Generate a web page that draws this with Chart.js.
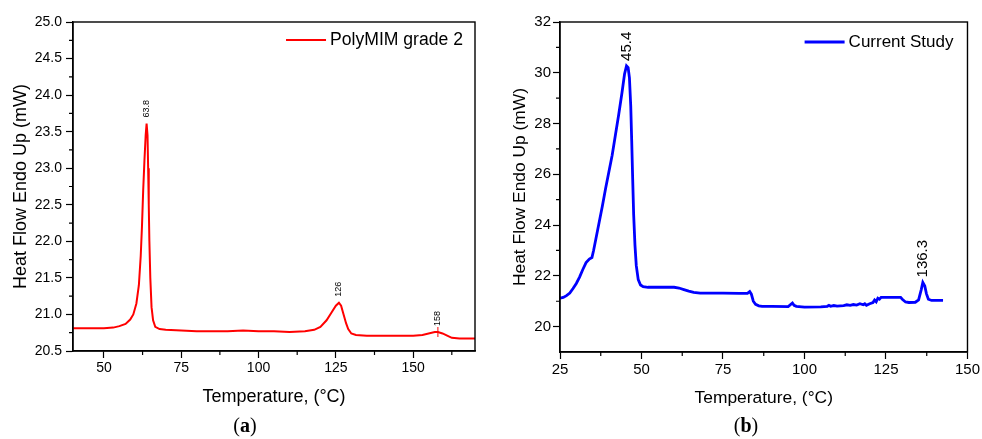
<!DOCTYPE html>
<html><head><meta charset="utf-8">
<script src="https://cdn.jsdelivr.net/npm/chart.js@4.4.1/dist/chart.umd.min.js"></script>
<style>
html,body{margin:0;padding:0;background:#fff;width:982px;height:439px;overflow:hidden;}
.panel{position:absolute;top:0;height:439px;}
#pa{left:0;width:490px;}
#pb{left:490px;width:492px;}
.cap{position:absolute;top:413px;width:80px;text-align:center;font-family:"Liberation Serif","Times New Roman",serif;font-size:20px;line-height:24px;color:#000;}
</style></head>
<body>
<div class="panel" id="pa"><canvas id="ca" width="490" height="439" style="width:490px;height:439px"></canvas></div>
<div class="panel" id="pb"><canvas id="cb" width="492" height="439" style="width:492px;height:439px"></canvas></div>
<div class="cap" style="left:205px">(<b>a</b>)</div>
<div class="cap" style="left:706px">(<b>b</b>)</div>
<script>
// ---------- data: panel (a) ----------
const seriesA = 'PolyMIM grade 2';
const tempA = [40,45,50,53,55,57,58.5,59.5,60.5,61.3,61.9,62.3,62.7,63.1,63.5,63.8,64.1,64.3,64.5,64.7,65.0,65.4,65.9,66.6,68,70,75,80,85,90,95,100,105,110,115,118,120,122,123.5,125,126,126.7,127.5,128.3,129,130,131.5,135,140,145,150,153,155,157,158,159.5,161,162.5,165,170];
const heatA = [20.81,20.81,20.81,20.82,20.84,20.87,20.93,21.0,21.15,21.4,21.8,22.2,22.7,23.1,23.45,23.61,23.45,23.0,22.5,22.0,21.5,21.1,20.92,20.83,20.8,20.79,20.78,20.77,20.77,20.77,20.78,20.77,20.77,20.76,20.77,20.79,20.83,20.92,21.02,21.12,21.16,21.12,21.0,20.88,20.8,20.74,20.72,20.71,20.71,20.71,20.71,20.72,20.74,20.76,20.76,20.74,20.71,20.68,20.67,20.67];
const xTicksA = [50,75,100,125,150];
const yTicksA = [20.5,21.0,21.5,22.0,22.5,23.0,23.5,24.0,24.5,25.0];
const xMinorA = [62.5,87.5,112.5,137.5,162.5];
const yMinorA = [20.75,21.25,21.75,22.25,22.75,23.25,23.75,24.25,24.75];
const peakTempA = [63.8,126,158];
const peakTextA = ['63.8','126','158'];

// ---------- data: panel (b) ----------
const seriesB = 'Current Study';
const tempB = [25,26,27,28,29,30,31,32,33,34,34.8,35.3,36,37,38,39,40,41,42,43,44,44.8,45.4,45.9,46.3,46.7,47.0,47.3,47.6,48.0,48.4,49.0,49.7,50.5,52,55,58,60,61.5,63,64.5,66,68,70,75,80,82.5,83.2,83.7,84.3,85,86,87,90,95,96.3,96.8,97.5,100,105,107,107.5,108,109,110,112,113,114,115,116,117,118,118.5,119,120,121,121.5,122,122.5,123,123.5,125,128,129.5,130,131,132,134,135,135.8,136.3,136.9,137.4,138,139,142.5];
const heatB = [21.12,21.15,21.22,21.32,21.5,21.7,21.95,22.25,22.52,22.66,22.72,23.0,23.45,24.1,24.75,25.45,26.1,26.75,27.55,28.35,29.2,29.95,30.27,30.2,29.8,28.7,27.3,25.8,24.4,23.2,22.4,21.85,21.64,21.57,21.55,21.55,21.55,21.55,21.52,21.46,21.4,21.35,21.32,21.32,21.32,21.31,21.31,21.38,21.28,21.0,20.88,20.82,20.8,20.8,20.79,20.93,20.84,20.8,20.77,20.78,20.8,20.84,20.8,20.83,20.81,20.83,20.86,20.84,20.87,20.85,20.9,20.86,20.9,20.84,20.9,20.95,21.05,20.98,21.12,21.08,21.15,21.15,21.15,21.15,21.08,20.97,20.95,20.96,21.05,21.45,21.74,21.6,21.3,21.08,21.03,21.03];
const xTicksB = [25,50,75,100,125,150];
const yTicksB = [20,22,24,26,28,30,32];
const xMinorB = [37.5,62.5,87.5,112.5,137.5];
const yMinorB = [21,23,25,27,29,31];
const peakTempB = [45.4,136.3];
const peakTextB = ['45.4','136.3'];

const FONT = '"Liberation Sans", Arial, Helvetica, sans-serif';

const extrasPlugin = {
  id: 'extras',
  afterDraw(chart, args, o) {
    const {ctx, chartArea: a, scales} = chart;
    const xs = scales.x, ys = scales.y;
    ctx.save();
    // frame
    ctx.strokeStyle = '#000';
    ctx.lineWidth = 1.4;
    ctx.strokeRect(a.left, a.top, a.right - a.left, a.bottom - a.top);
    // minor ticks
    ctx.lineWidth = 1.2;
    ctx.beginPath();
    o.xMinor.forEach(v => { const p = xs.getPixelForValue(v); ctx.moveTo(p, a.bottom); ctx.lineTo(p, a.bottom + o.minorLen); });
    o.yMinor.forEach(v => { const p = ys.getPixelForValue(v); ctx.moveTo(a.left, p); ctx.lineTo(a.left - o.minorLen, p); });
    ctx.stroke();
    // peak labels
    const ds = chart.data.datasets[0].data;
    ctx.fillStyle = '#000';
    ctx.font = o.peakFont + 'px ' + FONT;
    ctx.textAlign = 'left';
    ctx.textBaseline = 'middle';
    o.peaks.forEach((t, i) => {
      let best = ds[0];
      ds.forEach(d => { if (Math.abs(d.x - t) < Math.abs(best.x - t)) best = d; });
      const px = xs.getPixelForValue(t), py = ys.getPixelForValue(best.y);
      if (o.markers && o.markers[i]) {
        ctx.strokeStyle = chart.data.datasets[0].borderColor;
        ctx.lineWidth = 1;
        ctx.beginPath(); ctx.moveTo(px, py - 5); ctx.lineTo(px, py + 5); ctx.stroke();
      }
      ctx.save();
      ctx.translate(px, py - o.peakGap);
      ctx.rotate(-Math.PI / 2);
      ctx.fillText(o.peakText[i], 0, 0);
      ctx.restore();
    });
    // legend
    const dset = chart.data.datasets[0];
    ctx.font = o.legendFont + 'px ' + FONT;
    const tw = ctx.measureText(dset.label).width;
    const tx = a.right - o.legendRight - tw;
    const ly = a.top + o.legendTop;
    ctx.textAlign = 'left';
    ctx.fillText(dset.label, tx, ly);
    ctx.strokeStyle = dset.borderColor;
    ctx.lineWidth = dset.borderWidth;
    ctx.beginPath(); ctx.moveTo(tx - 4 - 40, ly); ctx.lineTo(tx - 4, ly); ctx.stroke();
    ctx.restore();
  }
};

function makeChart(id, cfg) {
  const pts = cfg.temp.map((t, i) => ({x: t, y: cfg.heat[i]}));
  return new Chart(document.getElementById(id), {
    type: 'line',
    data: { datasets: [{ label: cfg.label, data: pts, borderColor: cfg.color, borderWidth: cfg.lw, pointRadius: 0, tension: 0, fill: false }] },
    plugins: [extrasPlugin],
    options: {
      responsive: false, animation: false, devicePixelRatio: 1,
      layout: { padding: { left: 0, top: 22, right: cfg.padRight, bottom: 0 } },
      plugins: {
        legend: { display: false }, tooltip: { enabled: false },
        extras: { xMinor: cfg.xMinor, yMinor: cfg.yMinor, minorLen: 4, peaks: cfg.peaks, peakText: cfg.peakText, peakFont: cfg.peakFont, peakGap: cfg.peakGap, markers: cfg.markers, legendFont: cfg.legendFont, legendRight: cfg.legendRight, legendTop: cfg.legendTop }
      },
      scales: {
        x: {
          type: 'linear', min: cfg.xmin, max: cfg.xmax,
          afterBuildTicks: s => { s.ticks = cfg.xTicks.map(v => ({value: v})); },
          afterFit: s => { s.height = cfg.xAxisH; },
          ticks: { color: '#000', font: { size: cfg.tickFont, family: FONT }, padding: 2, maxRotation: 0, autoSkip: false, callback: v => String(v) },
          grid: { drawOnChartArea: false, drawTicks: true, tickLength: 7, tickColor: '#000', tickWidth: 1.2, color: '#000' },
          border: { display: true, color: '#000', width: 1.4 },
          title: { display: true, text: 'Temperature, (°C)', color: '#000', font: { size: cfg.titleFont, family: FONT }, padding: { top: 0, bottom: cfg.xTitlePad } }
        },
        y: {
          type: 'linear', min: cfg.ymin, max: cfg.ymax,
          afterBuildTicks: s => { s.ticks = cfg.yTicks.map(v => ({value: v})); },
          afterFit: s => { s.width = cfg.yAxisW; },
          ticks: { color: '#000', font: { size: cfg.tickFont, family: FONT }, padding: cfg.yTickPad, autoSkip: false, callback: v => cfg.yDec ? Number(v).toFixed(cfg.yDec) : String(v) },
          grid: { drawOnChartArea: false, drawTicks: true, tickLength: 7, tickColor: '#000', tickWidth: 1.2, color: '#000' },
          border: { display: true, color: '#000', width: 1.4 },
          title: { display: true, text: 'Heat Flow Endo Up (mW)', color: '#000', font: { size: cfg.titleFont, family: FONT }, padding: { top: cfg.yTitlePad, bottom: 0 } }
        }
      }
    }
  });
}

makeChart('ca', {
  label: seriesA, temp: tempA, heat: heatA, color: '#ff0000', lw: 2,
  xmin: 40, xmax: 170, ymin: 20.5, ymax: 25.0, xTicks: xTicksA, yTicks: yTicksA, xMinor: xMinorA, yMinor: yMinorA, yDec: 1,
  padRight: 15, xAxisH: 88, yAxisW: 73, tickFont: 14, titleFont: 18, xTitlePad: 31, yTitlePad: 10, yTickPad: 4,
  peaks: peakTempA, peakText: peakTextA, peakFont: 9, peakGap: 6, markers: [false, false, true],
  legendFont: 17.6, legendRight: 12, legendTop: 18
});
makeChart('cb', {
  label: seriesB, temp: tempB, heat: heatB, color: '#0000ff', lw: 2.8,
  xmin: 25, xmax: 150, ymin: 19, ymax: 32, xTicks: xTicksB, yTicks: yTicksB, xMinor: xMinorB, yMinor: yMinorB, yDec: 0,
  padRight: 14, xAxisH: 87, yAxisW: 70, tickFont: 15, titleFont: 17.4, xTitlePad: 30, yTitlePad: 20, yTickPad: 2,
  peaks: peakTempB, peakText: peakTextB, peakFont: 15, peakGap: 5, markers: [false, false],
  legendFont: 17, legendRight: 14, legendTop: 20
});
</script>
</body></html>
